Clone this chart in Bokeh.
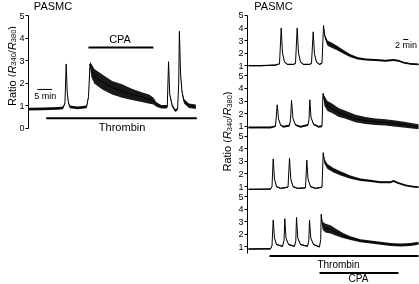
import numpy as np
from bokeh.plotting import figure
from bokeh.layouts import row
from bokeh.models import FixedTicker, Range1d
from bokeh.core.properties import value
from bokeh.embed import file_html
from bokeh.resources import INLINE

FONT = "Liberation Sans"

# ---------------- Left panel data (time in min, fura-2 ratio, noise half-width)
left_t = [0.0, 5.0, 10.0, 11.67, 12.33, 12.77, 13.1, 13.5, 14.0, 16.67, 19.67, 20.33, 20.83,
          21.33, 22.33, 25.0, 28.33, 31.67, 35.0, 38.33, 41.0, 42.33, 43.33, 45.0, 47.0, 47.43,
          47.83, 48.67, 49.67, 50.5, 50.87, 51.1, 51.5, 52.0, 52.67, 54.33, 56.67]
left_v = [0.85, 0.86, 0.88, 0.9, 1.1, 2.85, 1.6, 1.15, 0.95, 0.9, 0.95, 1.4, 2.85,
          2.55, 2.3, 2.05, 1.8, 1.65, 1.5, 1.38, 1.28, 1.2, 1.05, 0.95, 0.95, 2.95,
          1.5, 1.0, 0.78, 0.85, 2.0, 4.3, 2.4, 1.6, 1.2, 1.0, 0.95]
left_n = [0.06, 0.06, 0.06, 0.06, 0.04, 0.0, 0.03, 0.05, 0.06, 0.06, 0.06, 0.05, 0.1,
          0.3, 0.33, 0.33, 0.3, 0.3, 0.25, 0.22, 0.2, 0.15, 0.1, 0.08, 0.08, 0.0,
          0.05, 0.06, 0.06, 0.05, 0.0, 0.0, 0.05, 0.08, 0.1, 0.1, 0.1]

# ---------------- Right panel data: four cells (top to bottom)
r1_t = [0.0, 4.8, 10.8, 12.4, 13.08, 13.6, 14.4, 15.6, 18.0, 18.8, 19.48, 20.0, 20.8, 22.0,
        24.4, 25.2, 25.88, 26.4, 27.2, 28.4, 29.4, 30.0, 30.6, 31.6, 33.6, 35.6, 38.0, 40.8,
        43.6, 46.8, 50.8, 54.8, 58.0, 60.0, 62.0, 64.8, 68.0]
r1_v = [1.0, 1.0, 1.05, 1.15, 4.0, 2.0, 1.3, 1.1, 1.1, 1.2, 4.0, 2.0, 1.3, 1.1,
        1.1, 1.2, 3.7, 1.9, 1.3, 1.1, 1.2, 4.2, 3.3, 2.8, 2.6, 2.4, 2.1, 1.8,
        1.6, 1.5, 1.45, 1.4, 1.45, 1.4, 1.25, 1.15, 1.1]
r1_n = [0.05, 0.05, 0.05, 0.04, 0.0, 0.03, 0.04, 0.05, 0.05, 0.04, 0.0, 0.03, 0.04, 0.05,
        0.05, 0.04, 0.0, 0.03, 0.04, 0.05, 0.05, 0.0, 0.15, 0.2, 0.2, 0.18, 0.15, 0.12,
        0.1, 0.08, 0.08, 0.08, 0.08, 0.08, 0.07, 0.07, 0.07]

r2_t = [0.0, 8.8, 10.8, 11.48, 12.0, 12.8, 14.0, 16.4, 16.8, 17.2, 17.8, 18.8, 20.8, 23.8,
        24.2, 24.52, 25.0, 26.0, 28.0, 29.4, 29.8, 30.4, 31.6, 33.6, 36.0, 38.8, 42.8, 46.8,
        50.8, 54.8, 58.8, 62.8, 68.0]
r2_v = [0.9, 0.9, 1.0, 2.7, 1.6, 1.1, 0.95, 1.05, 1.5, 3.05, 1.6, 1.1, 0.95, 1.1,
        1.5, 3.1, 1.7, 1.15, 0.95, 1.0, 3.6, 3.0, 2.6, 2.4, 2.1, 1.9, 1.6, 1.45,
        1.35, 1.3, 1.2, 1.1, 0.95]
r2_n = [0.08, 0.08, 0.06, 0.0, 0.03, 0.06, 0.08, 0.08, 0.03, 0.0, 0.03, 0.06, 0.08, 0.08,
        0.03, 0.0, 0.03, 0.06, 0.08, 0.08, 0.05, 0.4, 0.4, 0.38, 0.35, 0.32, 0.3, 0.28,
        0.26, 0.25, 0.24, 0.22, 0.2]

r3_t = [0.0, 8.8, 9.4, 9.88, 10.4, 11.2, 12.8, 15.8, 16.4, 16.92, 17.8, 19.6, 22.8, 23.32,
        23.8, 24.8, 26.8, 29.4, 29.88, 30.4, 31.6, 34.0, 36.8, 40.8, 44.8, 48.8, 52.8, 56.8,
        58.0, 59.6, 62.8, 65.6, 68.0]
r3_v = [0.78, 0.8, 1.0, 3.2, 1.6, 1.0, 0.85, 0.95, 3.25, 1.6, 1.0, 0.85, 0.9, 3.1,
        1.6, 1.0, 0.85, 0.95, 3.7, 3.0, 2.6, 2.3, 2.05, 1.75, 1.55, 1.45, 1.35, 1.35,
        1.45, 1.3, 1.1, 1.0, 0.95]
r3_n = [0.05, 0.05, 0.03, 0.0, 0.03, 0.05, 0.05, 0.05, 0.0, 0.03, 0.05, 0.05, 0.05, 0.0,
        0.03, 0.05, 0.05, 0.05, 0.05, 0.2, 0.2, 0.18, 0.16, 0.13, 0.1, 0.09, 0.08, 0.08,
        0.08, 0.08, 0.07, 0.07, 0.07]

r4_t = [0.0, 8.8, 9.4, 9.88, 10.4, 11.2, 13.6, 14.2, 14.52, 15.0, 16.0, 18.4, 18.92, 19.2,
        19.72, 20.8, 23.6, 24.12, 24.4, 24.92, 26.0, 28.4, 28.88, 29.08, 29.6, 30.8, 32.8, 34.8,
        38.0, 40.8, 44.8, 48.8, 52.8, 56.8, 60.8, 64.8, 68.0]
r4_v = [0.83, 0.85, 1.1, 3.15, 1.7, 1.2, 1.05, 1.5, 3.25, 1.7, 1.2, 1.05, 1.5, 3.35,
        1.7, 1.2, 1.05, 1.5, 3.15, 1.7, 1.2, 1.0, 1.6, 3.6, 2.7, 2.5, 2.4, 2.2,
        1.9, 1.7, 1.5, 1.4, 1.3, 1.2, 1.15, 1.2, 1.3]
r4_n = [0.06, 0.06, 0.03, 0.0, 0.03, 0.05, 0.05, 0.03, 0.0, 0.03, 0.05, 0.05, 0.03, 0.0,
        0.03, 0.05, 0.05, 0.03, 0.0, 0.03, 0.05, 0.05, 0.05, 0.05, 0.3, 0.35, 0.32, 0.28,
        0.2, 0.15, 0.12, 0.12, 0.12, 0.12, 0.12, 0.12, 0.12]

tick_values = [1, 2, 3, 4, 5]
left_ticks = [0, 1, 2, 3, 4, 5]
cell_gap = 4.81   # vertical offset between stacked cells (ratio units)

# axis title pieces: (text, font size px, italic, baseline shift px, advance em)
label_pieces = [("Ratio (", 11, False, 0.0, 2.945),
                ("R", 11, True, 0.0, 0.722),
                ("340", 7.5, False, 2.0, 1.668),
                ("/", 11, False, 0.0, 0.278),
                ("R", 11, True, 0.0, 0.722),
                ("380", 7.5, False, 2.0, 1.668),
                (")", 11, False, 0.0, 0.333)]

H = 284


def style_axis(ax):
    ax.axis_line_color = "black"
    ax.axis_line_width = 1
    ax.major_tick_line_color = "black"
    ax.major_tick_out = 3
    ax.major_tick_in = 0
    ax.minor_tick_line_color = None
    ax.major_label_text_font = FONT
    ax.major_label_text_font_size = "9px"
    ax.major_label_text_color = "black"
    ax.major_label_standoff = 1


def base_fig(w, xr, yr, border_left, with_axis=True):
    p = figure(width=w, height=H, x_range=xr, y_range=yr, output_backend="svg",
               toolbar_location=None, x_axis_location=None,
               y_axis_location="left" if with_axis else None,
               min_border_left=border_left, min_border_right=0,
               min_border_top=0, min_border_bottom=0)
    p.grid.visible = False
    p.outline_line_color = None
    p.background_fill_color = "white"
    p.border_fill_color = "white"
    return p


def draw_trace(p, t, v, n, offset=0.0):
    t = np.asarray(t, float)
    v = np.asarray(v, float) + offset
    n = np.asarray(n, float)
    p.varea(x=t, y1=v - n, y2=v + n, fill_color="black", fill_alpha=0.9)
    p.line(t, v, line_color="black", line_width=1)


def hbar(p, x0, x1, y, w=2):
    p.line([x0, x1], [y, y], line_color="black", line_width=w)


def txt(p, x, y, s, size="11px"):
    p.text(x=[x], y=[y], text=[s], text_font=value(FONT), text_font_size=value(size),
           text_align="center", text_baseline="middle", text_color="black")


def title_fig(w, base_px, start_py):
    """Narrow strip holding the rotated title 'Ratio (R340/R380)' (pixel coordinates)."""
    p = base_fig(w, Range1d(0, w), Range1d(0, H), 0, with_axis=False)
    py = start_py
    for s, fs, ital, shift, em in label_pieces:
        p.text(x=[base_px + shift], y=[H - py], text=[s], angle=np.pi / 2,
               text_font=value(FONT), text_font_size=value(f"{fs}px"),
               text_font_style="italic" if ital else "normal",
               text_align="left", text_baseline="alphabetic", text_color="black")
        py -= em * fs
    return p


# ---------------- Left title strip + left figure (frame starts at x=25)
TLW = 16
tl = title_fig(TLW, 11.3, 105.5)
LW = 215 - TLW
pl = base_fig(LW, Range1d(0, 63.33), Range1d(-6.934, 5.666), 25 - TLW)
pl.yaxis.ticker = FixedTicker(ticks=left_ticks)
pl.yaxis.bounds = (0, 5)
style_axis(pl.yaxis[0])
draw_trace(pl, left_t, left_v, left_n)
hbar(pl, 6.0, 57.0, 0.444)
txt(pl, 31.7, 0.075, "Thrombin")
hbar(pl, 20.3, 42.3, 3.58)
txt(pl, 31.0, 3.94, "CPA")
hbar(pl, 3.0, 8.0, 1.72, 1)
txt(pl, 5.7, 1.45, "5 min", "9px")
txt(pl, 8.3, 5.40, "PASMC")

# ---------------- Right title strip + right figure (frame starts at x=247)
TRW = 17
tr = title_fig(TRW, 226.5 - 215, 171.0)
RW = 419 - 215 - TRW
pr = base_fig(RW, Range1d(-0.4, 68.4), Range1d(-1.988, 20.623), 247 - 215 - TRW)
ticks = []
overrides = {}
for k in range(4):
    off = (3 - k) * cell_gap
    for tv in tick_values:
        pos = round(tv + off, 4)
        ticks.append(pos)
        overrides[pos] = str(tv)
pr.yaxis.ticker = FixedTicker(ticks=ticks)
pr.yaxis.major_label_overrides = overrides
pr.yaxis.bounds = (0.48, 5 + 3 * cell_gap)
style_axis(pr.yaxis[0])
for k, (t, v, n) in enumerate([(r1_t, r1_v, r1_n), (r2_t, r2_v, r2_n),
                               (r3_t, r3_v, r3_n), (r4_t, r4_v, r4_n)]):
    draw_trace(pr, t, v, n, (3 - k) * cell_gap)
hbar(pr, 8.4, 68.0, 0.28)
txt(pr, 36.0, -0.396, "Thrombin", "10px")
hbar(pr, 28.4, 60.0, -1.07)
txt(pr, 44.0, -1.55, "CPA", "10px")
hbar(pr, 61.9, 63.9, 17.52, 1)
txt(pr, 63.0, 17.08, "2 min", "9px")
txt(pr, 10.0, 20.15, "PASMC")

layout = row(tl, pl, tr, pr, styles={"position": "fixed", "top": "0px", "left": "0px"})
open("out.html", "w").write(file_html(layout, INLINE))
